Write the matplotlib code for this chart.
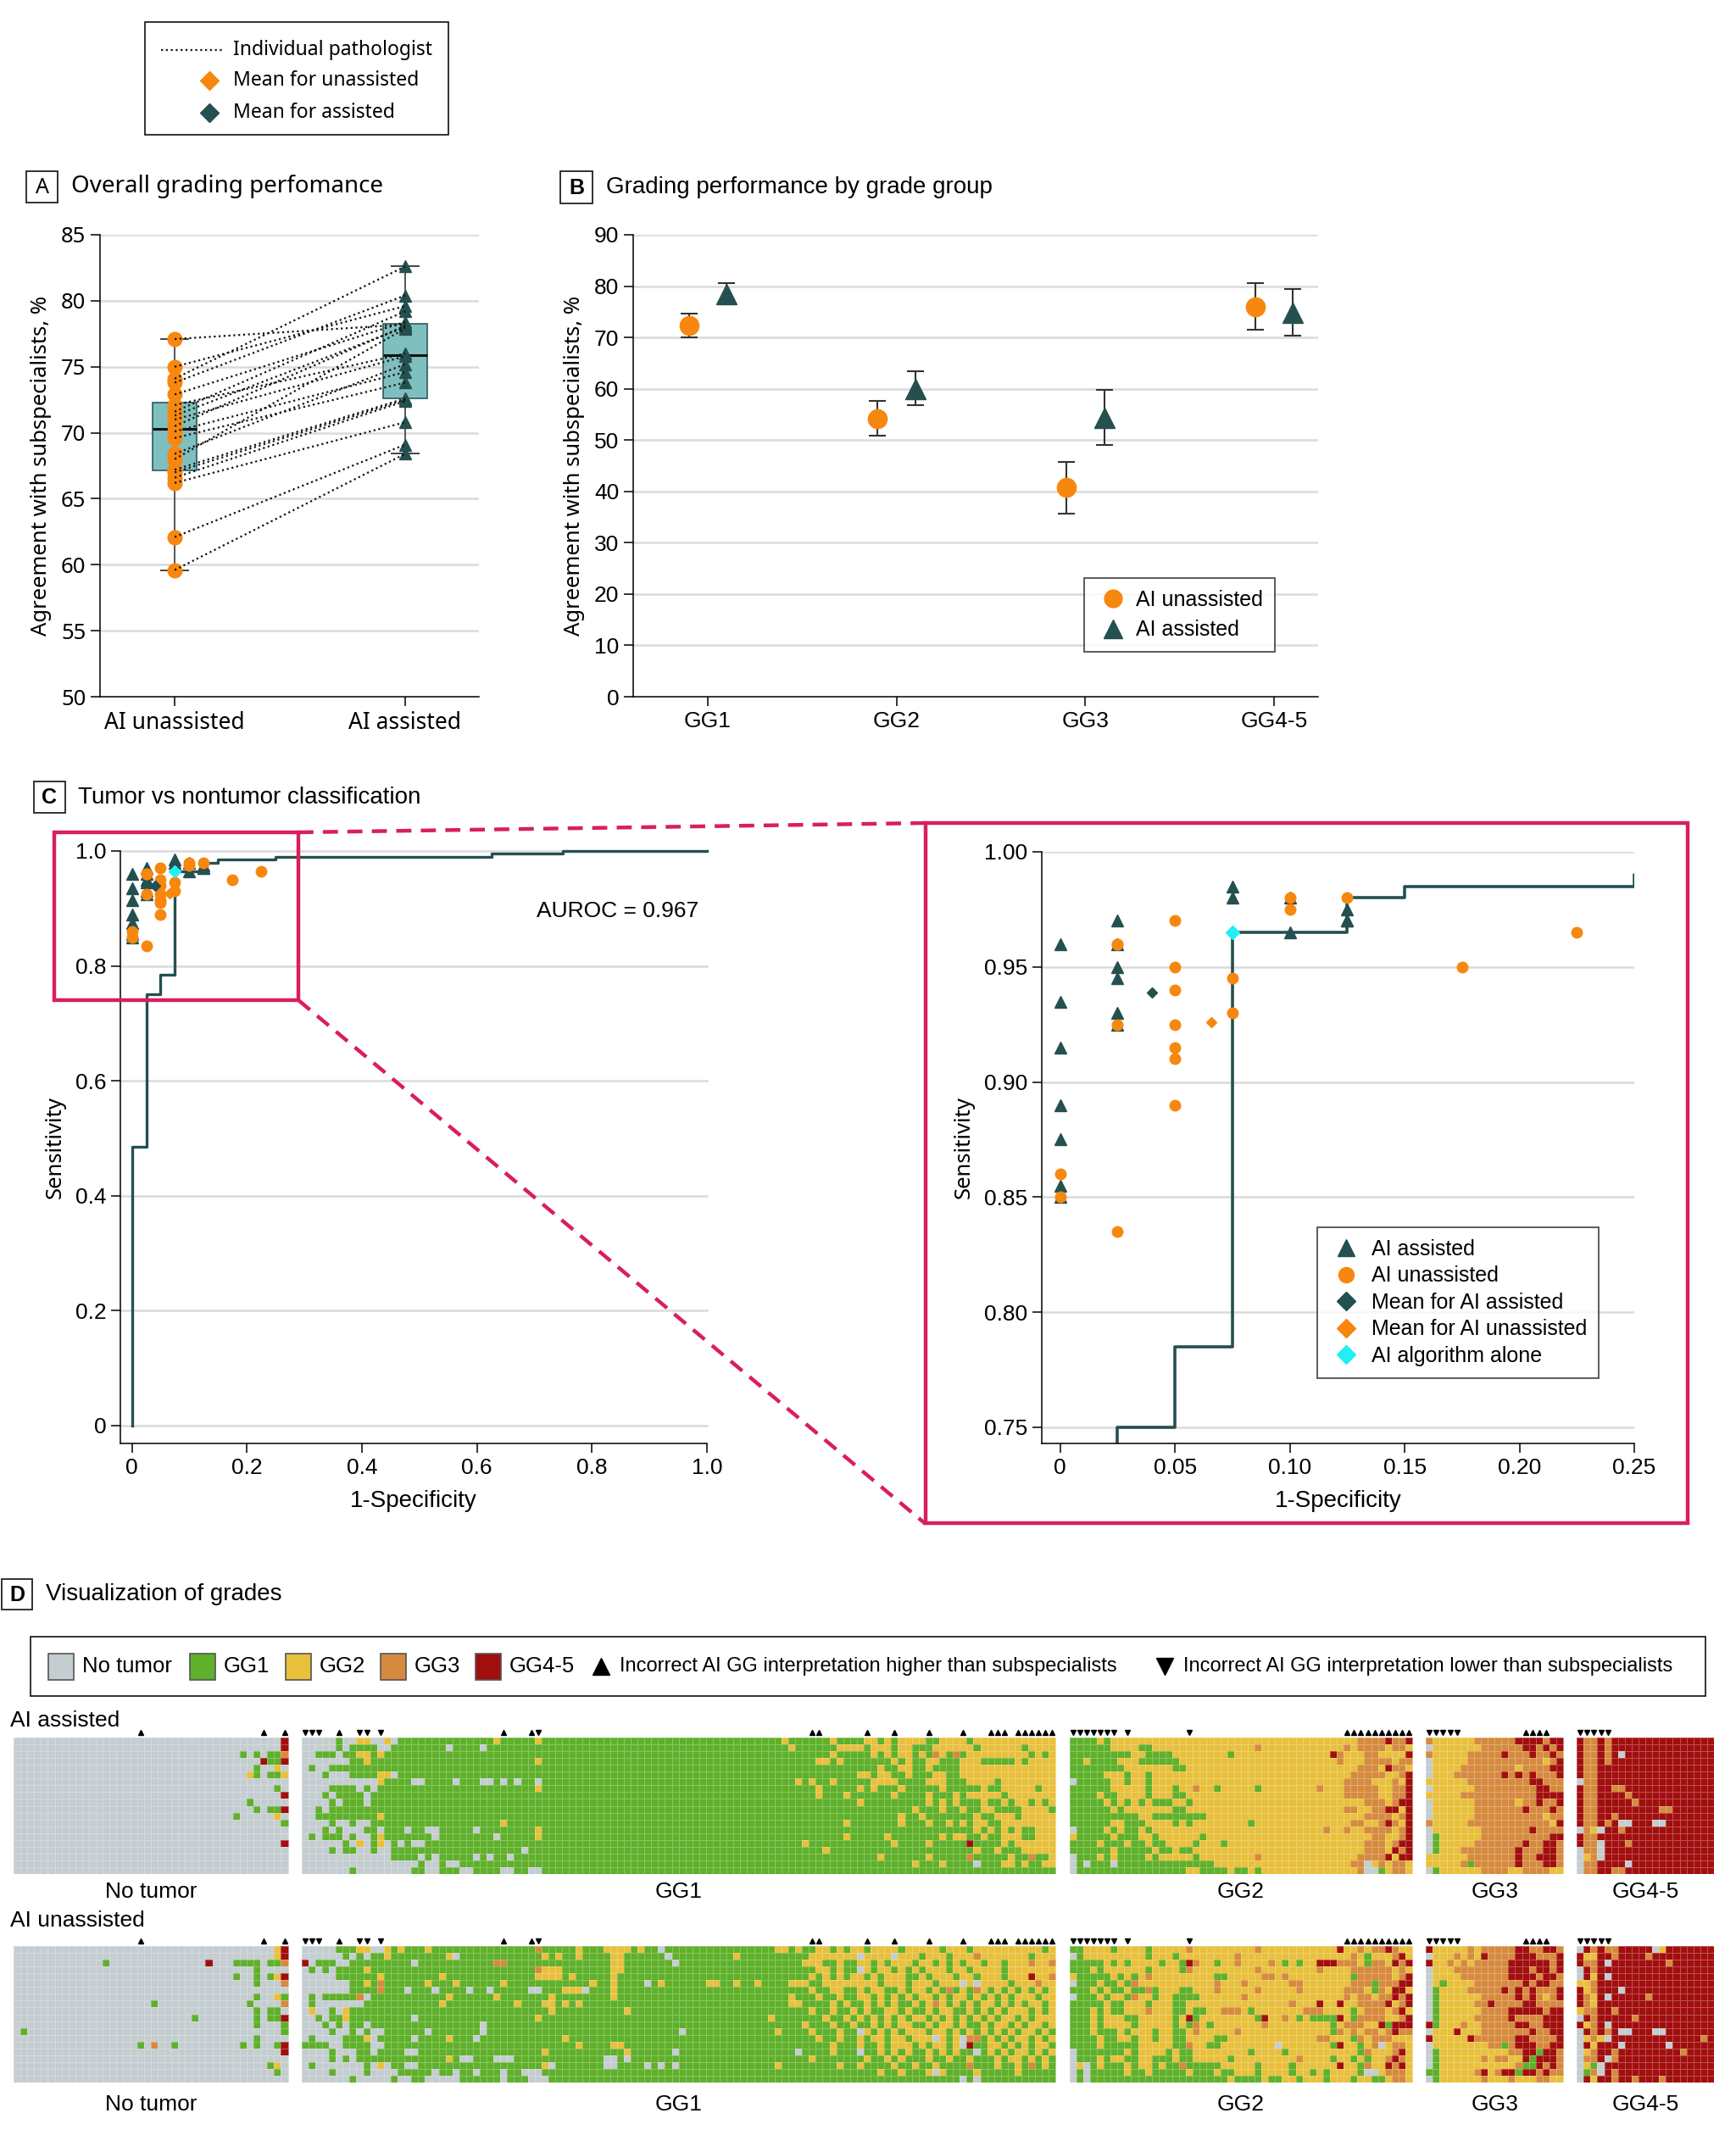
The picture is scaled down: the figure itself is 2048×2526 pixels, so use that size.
import numpy as np
import matplotlib
matplotlib.use("Agg")
import matplotlib.pyplot as plt
from matplotlib.colors import ListedColormap, BoundaryNorm
from matplotlib.patches import Rectangle
from matplotlib.lines import Line2D

# ---------------- data ----------------
# A: agreement per pathologist (same order in both lists)
a_groups = ['AI unassisted', 'AI assisted']
a_unassisted = [77.1, 75.0, 74.1, 73.8, 72.9, 72.1, 71.6, 71.3, 71.0, 70.5,
                70.1, 69.6, 68.4, 68.0, 67.2, 67.0, 66.6, 66.2, 62.1, 59.6]
a_assisted = [78.2, 79.6, 82.6, 80.4, 78.4, 76.0, 79.2, 78.0, 75.8, 78.1,
              74.6, 73.8, 75.2, 77.9, 72.6, 72.5, 72.4, 70.8, 69.1, 68.4]

# B: agreement by grade group with 95% CI
grade_groups = ['GG1', 'GG2', 'GG3', 'GG4-5']
b_unassisted = [72.3, 54.2, 40.8, 76.0]
b_unassisted_lo = [70.0, 50.8, 35.7, 71.5]
b_unassisted_hi = [74.6, 57.7, 45.8, 80.6]
b_assisted = [78.4, 59.9, 54.4, 74.8]
b_assisted_lo = [76.5, 56.8, 49.1, 70.3]
b_assisted_hi = [80.6, 63.4, 59.7, 79.4]

# C: ROC of the AI and pathologist operating points
roc_fpr = [0, 0, 0.025, 0.025, 0.05, 0.05, 0.075, 0.075, 0.125, 0.125, 0.15, 0.15,
           0.25, 0.25, 0.625, 0.625, 0.75, 0.75, 1.0]
roc_tpr = [0, 0.485, 0.485, 0.75, 0.75, 0.785, 0.785, 0.965, 0.965, 0.98, 0.98, 0.985,
           0.985, 0.99, 0.99, 0.995, 0.995, 1.0, 1.0]
c_as_fpr = [0, 0, 0, 0, 0, 0, 0, 0.025, 0.025, 0.025, 0.025, 0.025, 0.025,
            0.075, 0.075, 0.1, 0.1, 0.125, 0.125, 0.125]
c_as_tpr = [0.96, 0.935, 0.915, 0.89, 0.875, 0.855, 0.85, 0.97, 0.96, 0.95, 0.945, 0.93, 0.925,
            0.985, 0.98, 0.98, 0.965, 0.975, 0.97, 0.97]
c_un_fpr = [0, 0, 0.025, 0.025, 0.025, 0.025, 0.05, 0.05, 0.05, 0.05, 0.05, 0.05, 0.05,
            0.075, 0.075, 0.1, 0.1, 0.125, 0.175, 0.225]
c_un_tpr = [0.86, 0.85, 0.96, 0.96, 0.925, 0.835, 0.97, 0.95, 0.94, 0.925, 0.915, 0.91, 0.89,
            0.945, 0.93, 0.98, 0.975, 0.98, 0.95, 0.965]
c_mean_as = (0.04, 0.939)
c_mean_un = (0.066, 0.926)
c_ai_alone = (0.075, 0.965)
auroc_text = 'AUROC = 0.967'

# D: grade per pathologist (rows) and slide (columns); 0 no tumor, 1 GG1, 2 GG2, 3 GG3, 4 GG4-5
d_blocks = ['No tumor', 'GG1', 'GG2', 'GG3', 'GG4-5']
d_widths = [40, 110, 50, 20, 20]
d_up = [[18, 36, 39],
        [5, 29, 33, 74, 75, 82, 86, 91, 96, 100, 101, 102, 104, 105, 106, 107, 108, 109],
        [40, 41, 42, 43, 44, 45, 46, 47, 48, 49],
        [14, 15, 16, 17],
        []]
d_down = [[], [0, 1, 2, 8, 9, 11, 34], [0, 1, 2, 3, 4, 5, 6, 8, 17], [0, 1, 2, 3, 4], [0, 1, 2, 3, 4]]

as_notumor = ["0x30 0000000004", "0x30 0000000004", "0x30 0001010113", "0x30 0000004114",
              "0x30 0000010020", "0x30 0000210112", "0x40", "0x30 0000000010",
              "0x30 0000000004", "0x30 0000100000", "0x30 0000010114", "0x30 0010000020",
              "0x30 0000000001", "0x40", "0x40", "0x30 0000000004",
              "0x40", "0x40", "0x40", "0x40"]
un_notumor = ["0x30 0000000024", "0x30 0000000024", "0x13 1 0x14 4 0 0011110113", "0x30 0000010000",
              "0x30 0010010124", "0x30 0000010003", "0x40", "0x30 0000010021",
              "0x20 1 0x9 0000100003", "0x30 0000010110", "0x26 1 000 0000010114", "0x30 0000010001",
              "0 1 0x28 0000000001", "0x30 0000010000", "0x18 1 0 3 00 1 0x6 0001010014", "0x30 0000000004",
              "0x40", "0x30 0000000120", "0x30 0000000010", "0x40"]
as_gg1 = [
    "00000 1 00 22 00 2 0 1x14 2 11111 2 1111111 1x28 2111111211 1122121222 2112222122 2222222222",
    "00000 1 0 1111 00 1x8 0 1111 0 1x15 1x28 1211111122 2212221221 1122222212 2222212222",
    "00 111 0 11 22 1 2 1x30 1x28 1111111211 1112121221 2132131222 2222221212",
    "0000000 11 2 1x24 2 1x7 1x28 1111122121 1111112121 1221112221 1111212222",
    "0 1 00 1x38 1x28 1111111111 1111211221 1211112222 2222222222",
    "000 1 000 1111 22 0 1x28 1x28 1111111111 1221221121 1122112222 2222222222",
    "0x11 2 1 111 00 1111 0 111 00 1 0 1 0 11 0 1111111 1x28 1121211211 1112222111 1222111222 2122222222",
    "0000 1111 0 1 0 1x23 2 1x7 1x28 1111121111 1212111211 1112111112 1122222122",
    "000 1 0 1111 0 1x32 1x28 1111121112 1111112111 1211121222 2212222222",
    "0000 1 0 111 0 1x32 1x28 1111111111 1211111111 1212121112 1121221212",
    "00 1 0 1x38 1x28 1111111111 1111111112 1112112112 2111122221",
    "00 1x9 2 1x30 1x28 1111111111 1111111211 2111111121 1222122222",
    "0000 1 00 1 00 1x19 2 1x12 1x28 1111111112 1111111211 1211212122 1122222222",
    "000 1 0 1 000 11 0 111 0 11 00 11111 0 11111111 2 1111111 1x28 1111111111 1111111111 1111111121 2121211222",
    "0 1 0 111 0 1 00 1 2 1111111 0 11111111 0 11111 2 1111111 1x28 1111111112 1111121111 1112122112 1122211222",
    "000000 1 0 2 0 1 2 0 1 0 1 00 1x24 1x28 1112111111 1111112111 1211111411 1121222222",
    "0000 1 0 11 00 1 00 1x19 0 1x9 1x28 1111112111 1111111111 1111111121 1211122222",
    "0x13 1111 0 1 0 11111 0 1 0 11 0 1x11 1x28 1111111111 1111211111 1211111311 1112113112",
    "0x17 1 00 1 00 1x19 1x28 1111111111 1111111112 1112111101 1122121122",
    "0000000 1 0x8 11 00 111 00 1111 00 11 00 1x7 1x28 1x40"]
un_gg1 = [
    "00000 111 22 00 2 1 2 111 2 1x15 3 11111 2 1 11 2222 1 2 11 0 1x16 2 2121122121 2212222122 2221222122 2222222212",
    "000000 1 0 1 0 11 2 1x8 2 0 1x12 2 1 2 11 2 1 111 22 1x6 0 1x9 2 111111 1111222222 2022220222 1222122232 2222221222",
    "4 0 111 00 1x9 0 1x11 33 1111 1 1 11 1111 111 22 1x7 0 1x15 1112221121 1221212221 2212121221 2212223223",
    "0 1 0 1 0 1111 2 1x24 3 222 1111 111 22 1x23 1111122121 1021221212 1222122122 2212222222",
    "00000 11111 1 2 1x8 2 1x13 2222 1 2 11 111 2 1x24 1111212121 2212122211 2122212212 2212224223",
    "0000000 1 1 2 1 3 1x6 2 111 2 111111 2 1x12 2 11 2 1111 0 1 2 111111 22 11 2 11 2 111 1222112222 2222122212 2212220202 2221222322",
    "0000000 1111 3 111 0 111 0 1111 0 11 0 11111 00 111 222 0 111 2 1x24 1111211221 1212211212 2121312132 1212121212",
    "0 1 0 111 11 3 0 1x11 2 111111 2 1111111 2 11111 111 2 1x24 1211121121 1221212121 2212122121 2121222122",
    "0 1 0000000 1 1x10 2 1x10 2 111 22 1 2 1 2 1 1x28 1221111212 1121212112 1232121212 2121212212",
    "0 2 00 1 0 2 1x29 2 11111 11111 2 1x22 1111211211 2121122121 1212211212 1212221212",
    "00 1 0 11 2 1x9 0 1x17 2 1111111 1x26 2 1 1111112112 1212121212 2121212121 2122121222",
    "000 1 0 1 0 11 0 1x16 0 1x15 1x28 1112111211 2112121221 1212212112 1221212212",
    "0000 1 00 1 0 1 00 1x6 0 1x7 0 1x7 1x8 1x13 0 1x13 2 1111211121 1021212122 2122121212 1212122121",
    "0 1 0000 111 2 0 11111 0 1111 2 111 0 1x12 2 111 1x28 1111121121 1212212212 2202120331 2121221212",
    "1111 00 1111 00 1x28 2 1 111 22 1x23 1111111211 1211212221 2122120411 2212121221",
    "0000 1 000 11 0 1111 00 1x18 2 111111 11111 2 111111 0 1x15 1101111211 1011212121 1212121101 2121221212",
    "0000 1 0 1 0 1x13 2 1 00 111 000 1x11 11 00 1 0 1x22 1111211111 1121121211 1211211211 1212212121",
    "0 1 0000000 1 0 2 0 11 00 1x18 2 0 11111 11 00 1111 0 1 0 1 0 1x14 2 1111111121 1211112112 1121111311 1211213121",
    "0000 1 0000 1 0000 11111 0 11 0 11 0 111 0 11 000 1x7 1x28 1111111111 1111211211 1202111121 1111211111",
    "0000000 1 00000 1 00 11 00000 111111 0 111 000 111111 1x28 1111111111 1111111111 1111110101 1111111111"]
as_gg2 = ["1111212222 2222222222 2222222222 2222222222 2233334334",
          "1111112222 1122222222 2222222322 2222222222 3233332332",
          "1111111112 2111122222 2221222222 2222222243 2223322224",
          "1121111222 1111112222 2222222222 2222222223 2223333233",
          "1111111122 2222211222 2222222222 2222222222 2233324332",
          "1111122212 2122222222 2222222222 2222222222 2333332234",
          "0111112212 2122222222 2222222222 2222222222 3333222324",
          "1111112222 2122212232 2122222122 2222223222 3333322334",
          "1111211222 2122211222 2222222222 2222222222 3333322334",
          "1111121212 1211122122 2222222222 2222222222 2223332344",
          "1111112122 2222211222 2222222222 2222222222 3322334424",
          "1111111111 2211111111 2222222222 2222222222 2223333234",
          "1111112211 1222212122 2222221222 2222222222 2332234324",
          "0111121211 2122222222 2222222222 2222222322 3223333234",
          "2111112111 2212222221 2222222222 2222222222 2222332234",
          "1111211121 1211222212 2212222222 2222222222 2223332344",
          "1111112111 1121121122 2222222222 2222222222 2223332434",
          "0111212111 1212222212 2222222322 2222222222 2233334244",
          "0101110111 1111111111 1222222222 2222222222 2330232332",
          "0111111111 1111111221 1112112122 2222222222 2230012332"]
un_gg2 = ["1122221222 2122222322 2222222322 2222222224 2232334322",
          "0122222222 2122212222 2222322222 2222222222 2321222342",
          "1111121212 2221221432 2122322223 2121224443 3321332434",
          "1112122222 2122221322 2222222322 2222223222 2333333232",
          "2111112121 2322222222 2112222233 2322222222 2133333234",
          "0111211213 2222222222 2322232222 2233222222 2333133344",
          "1112121121 1312221122 2322222322 2223222222 3332132442",
          "0111212213 2212211112 2222232222 2222222222 3233233434",
          "1111121122 2122211222 2222222222 2232224224 2233334234",
          "1112121122 2322211211 2233321222 2222333222 2123332342",
          "1112122211 2222212412 2222222142 2321211114 2133332234",
          "1112122221 2222212132 1222222232 2222222212 3332241444",
          "1112111212 2212211232 2222322222 2222222213 2323323433",
          "1111211221 2212211222 2112222222 2222223322 2132333222",
          "1111211111 2222211322 1122222222 0222222214 2212302332",
          "0111111121 2222121122 2222221222 2122222222 2213222342",
          "0111212211 2211121122 2221222222 2223222212 2121223432",
          "0201211121 2212113111 1122222122 2212222224 2213224342",
          "0101111121 1211111211 1211222122 2212212122 2210023332",
          "0101111111 1111111111 1112111121 1221222122 2122112332"]
as_gg3 = ["3222222333 3334444344", "0222222233 3333443434", "3222223333 3433343343",
          "0222223333 3333333234", "0222233333 3332333344", "0222333333 3434343334",
          "2222223333 3333344333", "0222222333 3333334433", "2222233333 3333334444",
          "0222222333 3332334334", "0222222333 3333433343", "0222222333 3333333233",
          "3222223333 3333333324", "0222222233 3333343333", "0122222233 3333333344",
          "0122222333 3333433443", "0122233333 3334333443", "2222223333 3334334443",
          "2222231333 3334333443", "0122222233 3322333322"]
un_gg3 = ["4222223233 3334433443", "0222323243 3334443334", "4223232333 3344444434",
          "0222333333 3344434434", "0222233333 3344443443", "0212222333 3333434433",
          "0122223333 3434343334", "0122222233 3334343234", "0122222334 3333443333",
          "0122222233 3344444344", "0122222333 3343333444", "4122232233 3334433444",
          "0222422233 3333343344", "4222224333 3334433334", "0222222223 3134443344",
          "0122222222 2233441443", "0122222232 3322414443", "0122222222 2223114343",
          "1122222342 3441443433", "0122222232 2232223322"]
as_gg45 = ["4334344444 4444444444", "4334344444 4444444444", "4334340444 4444444444",
           "4334344444 4444444444", "4334444444 4444444444", "4334444444 4444444444",
           "0334444444 4444444444", "4334433444 4444444444", "4334444344 4444444444",
           "4334444434 4444444444", "4334444444 4433444444", "4334434444 4444444444",
           "4334340044 4004444444", "0320443444 4444444444", "4334444444 4444444444",
           "4330444344 4444444444", "0330444444 4444444444", "0230444444 4444444444",
           "0334444044 4444444444", "0334433444 4444444444"]
un_gg45 = ["0434334444 4024444444", "4224434444 3444444444", "4334044444 4443444444",
           "0434444444 4444444444", "0424044444 4444444444", "2234444444 4444444444",
           "4234440444 4444444444", "4324044444 3444444444", "4324444444 4444444444",
           "2334434444 4444444444", "0434444434 4444444444", "4234044444 4444444444",
           "0434340044 4004444444", "0232044444 4444444434", "0424440444 4440444444",
           "0234434444 4444434444", "0334034444 4444444444", "0210444444 4444444444",
           "0130434444 4444444444", "0424434434 4434444444"]

# ---------------- style ----------------
W, H = 2048, 2526
ORANGE = '#f7870f'
TEAL = '#24504f'
BOXFILL = '#80bfbf'
GRID = '#dadada'
PINK = '#d81f5c'
CYAN = '#22eef5'
GRADE_COLORS = ['#c4cdd0', '#5fb02a', '#e8c03c', '#d68a3e', '#a20e0e']
FA = ['Noto Sans', 'DejaVu Sans']
FN = ['Liberation Sans', 'DejaVu Sans']
plt.rcParams['font.family'] = FN

fig = plt.figure(figsize=(W / 100, H / 100), dpi=100)


def px(l, t, r, b):
    return [l / W, 1 - b / H, (r - l) / W, (b - t) / H]


def base_style(ax):
    for s in ['top', 'right']:
        ax.spines[s].set_visible(False)
    for s in ['left', 'bottom']:
        ax.spines[s].set_linewidth(1.1)
    ax.tick_params(direction='out', length=8, width=1.1, labelsize=18, pad=4)


# ---------------- A ----------------
axA = fig.add_axes(px(118, 277, 565, 822))
base_style(axA)
axA.set_xlim(-0.324, 1.32)
axA.set_ylim(50, 85)
for y in range(55, 90, 5):
    axA.axhline(y, color=GRID, lw=1.8, zorder=0)
axA.boxplot([a_unassisted, a_assisted], positions=[0, 1], widths=0.19, whis=(0, 100),
            patch_artist=True, showfliers=False, capwidths=0.12,
            boxprops=dict(facecolor=BOXFILL, edgecolor='#2c5a5a', lw=1.2),
            medianprops=dict(color='#111111', lw=2.2),
            whiskerprops=dict(color='#555555', lw=1.4),
            capprops=dict(color='#444444', lw=1.4))
axA.plot([0] * len(a_unassisted), a_unassisted, 'o', ms=12, color=ORANGE, zorder=3)
axA.plot([1] * len(a_assisted), a_assisted, '^', ms=10, color=TEAL, zorder=3)
for u, a in zip(a_unassisted, a_assisted):
    axA.plot([0, 1], [u, a], color='#111111', lw=1.6, ls=(0, (1, 1.6)), zorder=4)
axA.set_yticks(range(50, 90, 5))
axA.set_yticklabels([str(v) for v in range(50, 90, 5)], fontfamily=FA, fontsize=18.5)
axA.set_xticks([0, 1])
axA.set_xticklabels(a_groups, fontfamily=FA, fontsize=19)
axA.set_ylabel('Agreement with subspecialists, %', fontfamily=FA, fontsize=18.5, labelpad=8)

# ---------------- B ----------------
axB = fig.add_axes(px(747, 277, 1555, 822))
base_style(axB)
axB.set_xlim(-0.395, 3.233)
axB.set_ylim(0, 90)
for y in range(10, 100, 10):
    axB.axhline(y, color=GRID, lw=1.8, zorder=0)
xb = np.arange(len(grade_groups))
bu = np.array(b_unassisted)
ba = np.array(b_assisted)
axB.errorbar(xb - 0.1, bu, yerr=[bu - np.array(b_unassisted_lo), np.array(b_unassisted_hi) - bu],
             fmt='o', ms=16, color=ORANGE, ecolor='#333333', elinewidth=1.5, capsize=7.5,
             capthick=1.5, zorder=3)
axB.errorbar(xb + 0.1, ba, yerr=[ba - np.array(b_assisted_lo), np.array(b_assisted_hi) - ba],
             fmt='^', ms=17, color=TEAL, ecolor='#333333', elinewidth=1.5, capsize=7.5,
             capthick=1.5, zorder=3)
axB.set_yticks(range(0, 100, 10))
axB.set_yticklabels([str(v) for v in range(0, 100, 10)], fontsize=19)
axB.set_xticks(xb)
axB.set_xticklabels(grade_groups, fontsize=19)
axB.set_ylabel('Agreement with subspecialists, %', fontfamily=FA, fontsize=18.5, labelpad=8)
hB = [Line2D([], [], ls='', marker='o', ms=15, color=ORANGE),
      Line2D([], [], ls='', marker='^', ms=16, color=TEAL)]
legB = axB.legend(hB, ['AI unassisted', 'AI assisted'], loc='lower right',
                  bbox_to_anchor=(0.952, 0.074), fontsize=18, frameon=True, fancybox=False,
                  edgecolor='#222222', handletextpad=0.3, borderpad=0.55, labelspacing=0.45,
                  handlelength=1.6)
legB.get_frame().set_linewidth(1.3)

# ---------------- C ----------------
axC = fig.add_axes(px(142, 1004, 834, 1703))
base_style(axC)
axC.set_xlim(-0.02, 1.0)
axC.set_ylim(-0.031, 1.0)
for y in np.arange(0, 1.01, 0.2):
    axC.axhline(y, color=GRID, lw=1.8, zorder=0, clip_on=False)
axC.plot(roc_fpr, roc_tpr, color=TEAL, lw=2.4, zorder=2, clip_on=False)
axC.plot(c_as_fpr, c_as_tpr, '^', ms=10, color=TEAL, zorder=3, clip_on=False)
axC.plot(c_un_fpr, c_un_tpr, 'o', ms=9, color=ORANGE, zorder=3, clip_on=False)
axC.plot(*c_mean_as, 'D', ms=6, color=TEAL, zorder=4)
axC.plot(*c_mean_un, 'D', ms=6, color=ORANGE, zorder=4)
axC.plot(*c_ai_alone, 'D', ms=7, color=CYAN, zorder=5)
axC.text(0.985, 0.895, auroc_text, ha='right', va='center', fontsize=19)
ct = [0, 0.2, 0.4, 0.6, 0.8, 1.0]
axC.set_xticks(ct)
axC.set_xticklabels(['0', '0.2', '0.4', '0.6', '0.8', '1.0'], fontsize=19)
axC.set_yticks(ct)
axC.set_yticklabels(['0', '0.2', '0.4', '0.6', '0.8', '1.0'], fontsize=19)
axC.set_xlabel('1-Specificity', fontsize=20, labelpad=10)
axC.set_ylabel('Sensitivity', fontfamily=FA, fontsize=18.5, labelpad=8)

axZ = fig.add_axes(px(1229, 1005, 1928, 1703))
base_style(axZ)
axZ.set_xlim(-0.008, 0.25)
axZ.set_ylim(0.743, 1.0)
for y in np.arange(0.75, 1.001, 0.05):
    axZ.axhline(y, color=GRID, lw=1.8, zorder=0)
axZ.plot(roc_fpr, roc_tpr, color=TEAL, lw=2.6, zorder=2)
axZ.plot(c_as_fpr, c_as_tpr, '^', ms=10.5, color=TEAL, zorder=3)
axZ.plot(c_un_fpr, c_un_tpr, 'o', ms=9, color=ORANGE, zorder=3)
axZ.plot(*c_mean_as, 'D', ms=6.5, color=TEAL, zorder=4)
axZ.plot(*c_mean_un, 'D', ms=6.5, color=ORANGE, zorder=4)
axZ.plot(*c_ai_alone, 'D', ms=8, color=CYAN, zorder=5)
zt = [0, 0.05, 0.10, 0.15, 0.20, 0.25]
axZ.set_xticks(zt)
axZ.set_xticklabels(['0', '0.05', '0.10', '0.15', '0.20', '0.25'], fontsize=19)
zy = [0.75, 0.80, 0.85, 0.90, 0.95, 1.00]
axZ.set_yticks(zy)
axZ.set_yticklabels(['0.75', '0.80', '0.85', '0.90', '0.95', '1.00'], fontsize=19)
axZ.set_xlabel('1-Specificity', fontsize=20, labelpad=10)
axZ.set_ylabel('Sensitivity', fontfamily=FA, fontsize=18.5, labelpad=8)
hZ = [Line2D([], [], ls='', marker='^', ms=14, color=TEAL),
      Line2D([], [], ls='', marker='o', ms=13, color=ORANGE),
      Line2D([], [], ls='', marker='D', ms=11, color=TEAL),
      Line2D([], [], ls='', marker='D', ms=11, color=ORANGE),
      Line2D([], [], ls='', marker='D', ms=11, color=CYAN)]
legZ = axZ.legend(hZ, ['AI assisted', 'AI unassisted', 'Mean for AI assisted',
                       'Mean for AI unassisted', 'AI algorithm alone'],
                  loc='lower right', bbox_to_anchor=(0.958, 0.093), fontsize=18, frameon=True,
                  fancybox=False, edgecolor='#222222', handletextpad=0.4, borderpad=0.55,
                  labelspacing=0.3, handlelength=1.6)
legZ.get_frame().set_linewidth(1.3)

# ---------------- D ----------------
def expand(s):
    out = ''
    for tok in s.split():
        if 'x' in tok:
            ch, n = tok.split('x')
            out += ch * int(n)
        else:
            out += tok
    return out


GAP = 2
offsets = []
pos = 0
for w in d_widths:
    offsets.append(pos)
    pos += w + GAP
ncols = pos - GAP
cmap = ListedColormap(GRADE_COLORS)
norm = BoundaryNorm([-0.5, 0.5, 1.5, 2.5, 3.5, 4.5], 5)


def heatmap(ax, blocks_rows, label_y):
    mat = np.full((20, ncols), np.nan)
    for off, w, rows in zip(offsets, d_widths, blocks_rows):
        for r, s in enumerate(rows):
            vals = expand(s)
            vals = (vals + vals[-1] * w)[:w]
            mat[r, off:off + w] = [int(ch) for ch in vals]
    ax.pcolormesh(np.ma.masked_invalid(mat), cmap=cmap, norm=norm,
                  edgecolors=(1, 1, 1, 0.28), linewidth=0.4)
    ax.set_xlim(0, ncols)
    ax.set_ylim(20, 0)
    ax.axis('off')
    for off, w, up, dn, name in zip(offsets, d_widths, d_up, d_down, d_blocks):
        if up:
            ax.plot(np.array(up) + off + 0.5, [-0.75] * len(up), '^', ms=5, color='black',
                    clip_on=False)
        if dn:
            ax.plot(np.array(dn) + off + 0.5, [-0.75] * len(dn), 'v', ms=5, color='black',
                    clip_on=False)
        ax.text(off + w / 2, label_y, name, ha='center', va='center', fontsize=19)


axH1 = fig.add_axes(px(16, 2050, 2022, 2211))
heatmap(axH1, [as_notumor, as_gg1, as_gg2, as_gg3, as_gg45], 22.6)
axH2 = fig.add_axes(px(16, 2296, 2022, 2457))
heatmap(axH2, [un_notumor, un_gg1, un_gg2, un_gg3, un_gg45], 23.2)

# ---------------- overlay: titles, legends, zoom frame ----------------
ov = fig.add_axes([0, 0, 1, 1], zorder=10)
ov.set_xlim(0, W)
ov.set_ylim(H, 0)
ov.axis('off')
ov.patch.set_alpha(0)


def panel_label(letter, l, t, size, tx, title, fam):
    ov.add_patch(Rectangle((l, t), size, size, fc='white', ec='#222222', lw=1.3))
    ov.text(l + size / 2, t + size / 2 + 1, letter, ha='center', va='center', fontsize=18,
            fontweight='bold', fontfamily=fam)
    ov.text(tx, t + size / 2, title, ha='left', va='center', fontsize=20, fontfamily=fam)


panel_label('A', 31, 202, 37, 84, 'Overall grading perfomance', FA)
panel_label('B', 661, 202, 38, 715, 'Grading performance by grade group', FN)
panel_label('C', 40, 922, 37, 92, 'Tumor vs nontumor classification', FN)
panel_label('D', 2, 1863, 36, 54, 'Visualization of grades', FN)

# top legend
ov.add_patch(Rectangle((171, 26), 358, 133, fc='white', ec='#222222', lw=1.3))
ov.plot([190, 265], [59, 59], color='#111111', lw=1.6, ls=(0, (1, 1.6)))
ov.text(275, 59, 'Individual pathologist', va='center', fontsize=16.5, fontfamily=FA)
ov.plot(247, 95, 'D', ms=11, color=ORANGE)
ov.text(275, 95, 'Mean for unassisted', va='center', fontsize=16.5, fontfamily=FA)
ov.plot(247, 133, 'D', ms=11, color=TEAL)
ov.text(275, 133, 'Mean for assisted', va='center', fontsize=16.5, fontfamily=FA)

# zoom frame
ov.add_patch(Rectangle((64, 982), 288, 198, fc='none', ec=PINK, lw=3.2))
ov.add_patch(Rectangle((1092, 971), 899, 826, fc='none', ec=PINK, lw=3.2))
ov.plot([352, 1092], [982, 971], color=PINK, lw=3.2, ls=(0, (4, 2.5)))
ov.plot([352, 1092], [1180, 1798], color=PINK, lw=3.2, ls=(0, (4, 2.5)))

# grade legend
ov.add_patch(Rectangle((36, 1931), 1976, 70, fc='white', ec='#222222', lw=1.3))
leg_items = [(57, 'No tumor'), (224, 'GG1'), (337, 'GG2'), (449, 'GG3'), (561, 'GG4-5')]
for (x0, name), col in zip(leg_items, GRADE_COLORS):
    ov.add_patch(Rectangle((x0, 1951), 30, 31, fc=col, ec='#555555', lw=1.2))
    ov.text(x0 + 40, 1966, name, va='center', fontsize=18.5)
ov.plot(709, 1966, '^', ms=15, color='black')
ov.text(731, 1966, 'Incorrect AI GG interpretation higher than subspecialists', va='center',
        fontsize=17)
ov.plot(1374, 1966, 'v', ms=15, color='black')
ov.text(1396, 1966, 'Incorrect AI GG interpretation lower than subspecialists', va='center',
        fontsize=17)
ov.text(12, 2030, 'AI assisted', va='center', fontsize=19)
ov.text(12, 2266, 'AI unassisted', va='center', fontsize=19)

fig.savefig('out.png', dpi=100, facecolor='white')
